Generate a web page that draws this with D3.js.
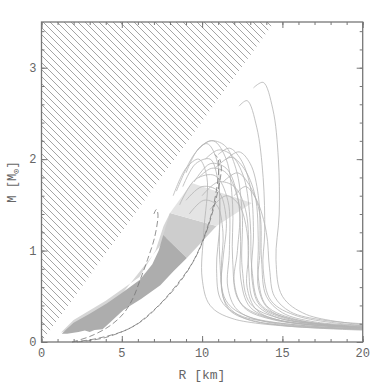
<!DOCTYPE html>
<html>
<head>
<meta charset="utf-8">
<script src="https://cdn.jsdelivr.net/npm/d3@7"></script>
<style>
  body { margin: 0; background: #fff; }
  text { font-family: "Liberation Mono", monospace; fill: #666; }
</style>
</head>
<body>
<div id="chart"></div>
<script>
const width = 384;
const height = 384;

const marginLeft = 41.5;
const marginRight = 21.3;
const marginTop = 22;
const marginBottom = 42;

// axis ranges and ticks
const xDomain = [0, 20];
const yDomain = [0, 3.5];
const xMajor = [0, 5, 10, 15, 20];
const yMajor = [0, 1, 2, 3];
const xMinor = d3.range(0, 21, 1);
const yMinor = d3.range(0, 3.5, 0.2);

// causality limit (hatched area above it)
const causalLimit = [[0, 0], [14.5, 3.5], [0, 3.5]];

// shaded regions [R, M]
const regionLight = [[8.0, 1.41], [9.35, 1.74], [13.1, 1.52], [10.9, 1.27]];
const regionEdge = [[1.2, 0.1], [2.0, 0.24], [4.0, 0.45], [6.1, 0.71], [7.1, 1.0], [7.6, 1.27], [8.0, 1.41],
                    [8.5, 1.3], [4.0, 0.3]];
const regionMedium = [[7.58, 1.17], [8.0, 1.41], [10.9, 1.27], [9.05, 0.92]];
const regionDark = [[1.26, 0.09], [1.5, 0.13], [2.0, 0.21], [3.0, 0.31], [4.06, 0.42], [5.0, 0.535], [6.13, 0.68],
                    [6.9, 0.85], [7.3, 1.0], [7.58, 1.17], [9.05, 0.92], [8.2, 0.77], [7.4, 0.62], [6.2, 0.47],
                    [5.1, 0.35], [4.3, 0.22], [3.8, 0.14], [3.3, 0.13], [3.0, 0.11], [2.7, 0.125], [2.3, 0.11], [1.6, 0.09]];

// normal star M-R curves (from tail at max mass down to R = 20)
const stars = [
  [[13.2, 2.78], [13.8, 2.84], [14.4, 2.55], [14.75, 2.0], [14.8, 1.4], [14.6, 0.9], [15.0, 0.5], [16.5, 0.3], [20, 0.19]],
  [[12.3, 2.58], [12.8, 2.64], [13.4, 2.35], [13.8, 1.8], [13.9, 1.2], [13.8, 0.8], [14.3, 0.45], [16, 0.28], [20, 0.18]],
  [[8.4, 1.65], [9.5, 2.05], [10.3, 2.17], [10.9, 2.0], [11.1, 1.5], [11.1, 0.9], [11.5, 0.45], [13, 0.27], [20, 0.14]],
  [[9.0, 1.85], [9.8, 2.12], [10.7, 2.2], [11.5, 2.0], [11.9, 1.5], [11.9, 0.9], [12.3, 0.45], [14, 0.27], [20, 0.15]],
  [[9.7, 2.1], [10.5, 2.2], [11.4, 2.15], [12.1, 1.9], [12.5, 1.4], [12.5, 0.8], [13, 0.42], [15, 0.25], [20, 0.16]],
  [[8.2, 1.6], [9.0, 1.9], [9.8, 2.0], [10.3, 1.8], [10.1, 1.2], [10.0, 0.7], [10.5, 0.4], [12, 0.25], [20, 0.13]],
  [[10.2, 2.0], [11.0, 2.1], [11.8, 2.05], [12.6, 1.8], [13.0, 1.3], [13.1, 0.8], [13.6, 0.42], [15.5, 0.25], [20, 0.16]],
  [[9.5, 1.75], [10.5, 1.95], [11.5, 1.9], [12.2, 1.6], [12.4, 1.1], [12.4, 0.7], [13, 0.38], [15, 0.23], [20, 0.15]],
  [[8.6, 1.5], [9.6, 1.78], [10.8, 1.82], [11.6, 1.55], [11.7, 1.0], [11.6, 0.6], [12.2, 0.35], [14, 0.22], [20, 0.14]],
  [[10.8, 1.9], [11.8, 2.02], [12.6, 1.9], [13.3, 1.6], [13.5, 1.1], [13.5, 0.7], [14.0, 0.4], [16, 0.24], [20, 0.17]],
  [[11.3, 1.75], [12.2, 1.85], [13.0, 1.7], [13.6, 1.4], [13.7, 0.9], [14.0, 0.5], [15, 0.32], [17, 0.22], [20, 0.18]],
  [[9.0, 1.55], [10, 1.7], [11, 1.65], [11.5, 1.35], [11.3, 0.9], [11.2, 0.6], [11.7, 0.35], [13.5, 0.22], [20, 0.14]],
  [[10.0, 1.6], [11, 1.75], [12, 1.7], [12.7, 1.45], [12.9, 1.0], [12.8, 0.6], [13.4, 0.35], [15, 0.23], [20, 0.16]],
  [[11.5, 2.0], [12.3, 2.08], [13.0, 1.95], [13.5, 1.6], [13.6, 1.0], [13.5, 0.6], [14.2, 0.35], [16.5, 0.22], [20, 0.17]],
  [[8.8, 1.7], [9.6, 1.95], [10.5, 2.0], [11.0, 1.75], [11.1, 1.3], [10.9, 0.8], [11.2, 0.45], [12.5, 0.28], [20, 0.14]],
  [[12.0, 1.6], [12.7, 1.7], [13.4, 1.55], [14.0, 1.2], [14.2, 0.8], [14.5, 0.5], [15.5, 0.33], [17.5, 0.24], [20, 0.2]],
  [[9.2, 1.4], [10.1, 1.55], [10.9, 1.5], [11.3, 1.2], [11.2, 0.8], [11.4, 0.45], [12.5, 0.27], [15, 0.18], [20, 0.14]],
  [[10.5, 1.45], [11.5, 1.6], [12.3, 1.5], [12.8, 1.2], [12.9, 0.8], [13.2, 0.45], [14.5, 0.28], [17, 0.2], [20, 0.16]],
  [[9.8, 1.8], [10.6, 1.9], [11.5, 1.85], [12.3, 1.5], [12.2, 1.0], [12.0, 0.65], [12.6, 0.38], [14.5, 0.24], [20, 0.15]],
  [[11.0, 2.05], [11.7, 2.12], [12.4, 2.0], [13.0, 1.7], [13.2, 1.2], [13.1, 0.7], [13.6, 0.4], [15.5, 0.24], [20, 0.16]]
];

// strange star curves (dashed)
const strangeStars = [
  [[1.9, 0], [3.0, 0.06], [4.2, 0.17], [5.1, 0.31], [5.7, 0.48], [6.1, 0.66], [6.6, 0.9], [7.05, 1.15], [7.25, 1.4], [7.15, 1.45], [7.0, 1.4]],
  [[1.9, 0], [3.5, 0.04], [5.5, 0.15], [7.0, 0.35], [8.3, 0.6], [9.5, 0.9], [10.5, 1.35], [11.0, 1.8], [11.0, 2.0], [10.8, 2.05]],
  [[2.2, 0], [4.0, 0.05], [6.0, 0.2], [7.6, 0.45], [8.8, 0.7], [9.8, 1.0], [10.7, 1.45], [11.2, 1.9], [11.1, 2.0]]
];

const svg = d3.select("#chart").append("svg").attr("width", width).attr("height", height);

const x = d3.scaleLinear().domain(xDomain).range([marginLeft, width - marginRight]);
const y = d3.scaleLinear().domain(yDomain).range([height - marginBottom, marginTop]);

// hatch pattern, "\" lines on a 7px tile
svg.append("defs").append("pattern")
   .attr("id", "hatch")
   .attr("patternUnits", "userSpaceOnUse")
   .attr("width", 7).attr("height", 7)
   .append("path")
   .attr("d", "M0,0L7,7M-1,6L1,8M6,-1L8,1")
   .attr("stroke", "#9a9a9a").attr("stroke-width", 0.9);

const area = d3.line().x(d => x(d[0])).y(d => y(d[1]));

svg.append("path").attr("d", area(causalLimit) + "Z").attr("fill", "url(#hatch)");

// shaded regions
svg.append("path").attr("d", area(regionEdge) + "Z").attr("fill", "#d6d6d6");
svg.append("path").attr("d", area(regionMedium) + "Z").attr("fill", "#cdcdcd");
svg.append("path").attr("d", area(regionLight) + "Z").attr("fill", "#e4e4e4");
svg.append("path").attr("d", area(regionDark) + "Z").attr("fill", "#adadad");

const curve = d3.line().x(d => x(d[0])).y(d => y(d[1])).curve(d3.curveCatmullRom.alpha(0.5));

svg.append("g").selectAll("path")
   .data(stars)
   .join("path")
   .attr("d", curve)
   .attr("fill", "none")
   .attr("stroke", "#b4b4b4")
   .attr("stroke-width", 0.8);

svg.append("g").selectAll("path")
   .data(strangeStars)
   .join("path")
   .attr("d", curve)
   .attr("fill", "none")
   .attr("stroke", "#777")
   .attr("stroke-width", 0.8)
   .attr("stroke-dasharray", "6,3");

// ticks on all four sides, pointing inward
function ticks(axis, transform, values, size) {
  const g = svg.append("g").attr("transform", transform)
    .call(axis.tickValues(values).tickSize(size).tickFormat(""));
  g.select(".domain").remove();
  g.selectAll("line").attr("stroke", "#777").attr("stroke-width", 1);
  return g;
}
const bottom = height - marginBottom;
const right = width - marginRight;
ticks(d3.axisBottom(x), `translate(0,${bottom})`, xMinor, -3);
ticks(d3.axisBottom(x), `translate(0,${bottom})`, xMajor, -6);
ticks(d3.axisTop(x), `translate(0,${marginTop})`, xMinor, -3);
ticks(d3.axisTop(x), `translate(0,${marginTop})`, xMajor, -6);
ticks(d3.axisLeft(y), `translate(${marginLeft},0)`, yMinor, -3);
ticks(d3.axisLeft(y), `translate(${marginLeft},0)`, yMajor, -6);
ticks(d3.axisRight(y), `translate(${right},0)`, yMinor, -3);
ticks(d3.axisRight(y), `translate(${right},0)`, yMajor, -6);

// tick labels
svg.append("g").selectAll("text").data(xMajor).join("text")
   .attr("x", d => x(d)).attr("y", bottom + 15)
   .attr("text-anchor", "middle").attr("font-size", 12).text(d => d);
svg.append("g").selectAll("text").data(yMajor).join("text")
   .attr("x", marginLeft - 5).attr("y", d => y(d) + 4)
   .attr("text-anchor", "end").attr("font-size", 12).text(d => d);

// frame
svg.append("rect")
   .attr("x", marginLeft).attr("y", marginTop)
   .attr("width", right - marginLeft).attr("height", bottom - marginTop)
   .attr("fill", "none").attr("stroke", "#777").attr("stroke-width", 1.3);

// axis titles
svg.append("text").attr("x", 202).attr("y", 379)
   .attr("text-anchor", "middle").attr("font-size", 13).text("R [km]");

const yt = svg.append("text")
   .attr("transform", `translate(16,${(marginTop + bottom) / 2}) rotate(-90)`)
   .attr("text-anchor", "middle").attr("font-size", 12);
yt.append("tspan").text("M [M");
yt.append("tspan").attr("font-size", 9).attr("dy", 3).text("⊙");
yt.append("tspan").attr("dy", -3).text("]");
</script>
</body>
</html>
